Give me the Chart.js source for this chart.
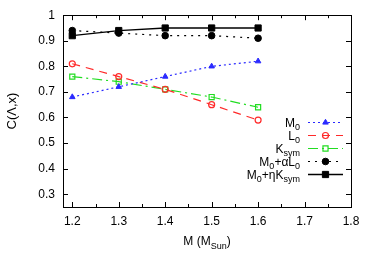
<!DOCTYPE html>
<html>
<head>
<meta charset="utf-8">
<script src="https://cdn.jsdelivr.net/npm/chart.js@4"></script>
<style>
  body { margin: 0; background: #fff; }
  canvas { display: block; }
</style>
</head>
<body>
<canvas id="myChart" width="374" height="262"></canvas>
<script>
// data
const masses = [1.2, 1.3, 1.4, 1.5, 1.6];
const m0 = [0.68, 0.72, 0.76, 0.80, 0.82];
const l0 = [0.81, 0.76, 0.71, 0.65, 0.59];
const ksym = [0.76, 0.74, 0.71, 0.68, 0.64];
const m0AlphaL0 = [0.94, 0.93, 0.92, 0.92, 0.91];
const m0EtaKsym = [0.92, 0.94, 0.95, 0.95, 0.95];

const xTicks = [1.2, 1.3, 1.4, 1.5, 1.6, 1.7, 1.8];
const xTickLabels = ["1.2", "1.3", "1.4", "1.5", "1.6", "1.7", "1.8"];
const xMinorTicks = [1.25, 1.35, 1.45, 1.55, 1.65, 1.75];
const yTicks = [0.3, 0.4, 0.5, 0.6, 0.7, 0.8, 0.9, 1.0];
const yTickLabels = ["0.3", "0.4", "0.5", "0.6", "0.7", "0.8", "0.9", "1"];

// legend labels as [text, isSubscript] pieces
const legendLabels = [
  [["M", false], ["0", true]],
  [["L", false], ["0", true]],
  [["K", false], ["sym", true]],
  [["M", false], ["0", true], ["+\u03B1L", false], ["0", true]],
  [["M", false], ["0", true], ["+\u03B7K", false], ["sym", true]]
];

const FONT = "'Liberation Sans', Arial, Helvetica, sans-serif";
Chart.defaults.font.family = FONT;

function pts(arr) {
  return masses.map((m, i) => ({ x: m, y: arr[i] }));
}

function drawRich(ctx, pieces, x, y, align) {
  const big = "12px " + FONT, small = "9px " + FONT;
  let w = 0;
  pieces.forEach(p => { ctx.font = p[1] ? small : big; w += ctx.measureText(p[0]).width; });
  let cx = align === "right" ? x - w : (align === "center" ? x - w / 2 : x);
  ctx.textAlign = "left";
  ctx.textBaseline = "alphabetic";
  pieces.forEach(p => {
    ctx.font = p[1] ? small : big;
    ctx.fillText(p[0], cx, y + (p[1] ? 3.5 : 0));
    cx += ctx.measureText(p[0]).width;
  });
}

const frame = {
  id: "frame",
  afterDraw(chart) {
    const ctx = chart.ctx;
    const a = chart.chartArea;
    const xs = chart.scales.x, ys = chart.scales.y;
    ctx.save();
    ctx.strokeStyle = "#000";
    ctx.lineWidth = 1;
    ctx.setLineDash([]);
    ctx.strokeRect(Math.round(a.left) + 0.5, Math.round(a.top) + 0.5,
      Math.round(a.right - a.left), Math.round(a.bottom - a.top));
    ctx.beginPath();
    xTicks.concat(xMinorTicks).forEach(v => {
      const len = xMinorTicks.includes(v) ? 3 : 5;
      const px = Math.round(xs.getPixelForValue(v)) + 0.5;
      ctx.moveTo(px, a.bottom); ctx.lineTo(px, a.bottom - len);
      ctx.moveTo(px, a.top); ctx.lineTo(px, a.top + len);
    });
    yTicks.forEach(v => {
      const py = Math.round(ys.getPixelForValue(v)) + 0.5;
      ctx.moveTo(a.left, py); ctx.lineTo(a.left + 5, py);
      ctx.moveTo(a.right, py); ctx.lineTo(a.right - 5, py);
    });
    ctx.stroke();

    // axis titles
    ctx.fillStyle = "#000";
    drawRich(ctx, [["M (M", false], ["Sun", true], [")", false]], 207, 245, "center");
    ctx.save();
    ctx.translate(16, 111);
    ctx.rotate(-Math.PI / 2);
    ctx.font = "13px " + FONT;
    ctx.textAlign = "center";
    ctx.textBaseline = "alphabetic";
    ctx.fillText("C(\u039B,x)", 0, 0);
    ctx.restore();

    // legend
    chart.data.datasets.forEach((ds, i) => {
      const y = 122.5 + i * 13;
      ctx.fillStyle = "#000";
      drawRich(ctx, legendLabels[i], 300, y + 4, "right");
      ctx.strokeStyle = ds.borderColor;
      ctx.lineWidth = ds.borderWidth;
      ctx.setLineDash(ds.borderDash || []);
      ctx.beginPath();
      ctx.moveTo(308, y); ctx.lineTo(343, y);
      ctx.stroke();
      ctx.setLineDash([]);
      ctx.fillStyle = ds.pointBackgroundColor;
      ctx.strokeStyle = ds.pointBorderColor;
      ctx.lineWidth = ds.pointBorderWidth;
      Chart.helpers.drawPoint(ctx, {
        pointStyle: ds.pointStyle, radius: ds.pointRadius, rotation: 0,
        borderWidth: ds.pointBorderWidth
      }, 325.5, y);
    });
    ctx.restore();
  }
};

const ctx = document.getElementById("myChart").getContext("2d");

const myChart = new Chart(ctx, {
  type: "line",
  data: {
    datasets: [
      {
        label: "M0",
        data: pts(m0),
        borderColor: "#2a2aff",
        borderWidth: 1.2,
        borderDash: [2, 3],
        pointStyle: "triangle",
        pointRadius: 3.2,
        pointBackgroundColor: "#2a2aff",
        pointBorderColor: "#2a2aff",
        pointBorderWidth: 1
      },
      {
        label: "L0",
        data: pts(l0),
        borderColor: "#ff2a2a",
        borderWidth: 1.2,
        borderDash: [8, 6],
        pointStyle: "circle",
        pointRadius: 3,
        pointBackgroundColor: "rgba(255,255,255,0)",
        pointBorderColor: "#ff2a2a",
        pointBorderWidth: 1.2
      },
      {
        label: "Ksym",
        data: pts(ksym),
        borderColor: "#22dd22",
        borderWidth: 1.2,
        borderDash: [10, 4, 2, 4],
        pointStyle: "rect",
        pointRadius: 3.6,
        pointBackgroundColor: "rgba(255,255,255,0)",
        pointBorderColor: "#22dd22",
        pointBorderWidth: 1.2
      },
      {
        label: "M0+aL0",
        data: pts(m0AlphaL0),
        borderColor: "#000",
        borderWidth: 1.2,
        borderDash: [2, 5],
        pointStyle: "circle",
        pointRadius: 3.3,
        pointBackgroundColor: "#000",
        pointBorderColor: "#000",
        pointBorderWidth: 1
      },
      {
        label: "M0+nKsym",
        data: pts(m0EtaKsym),
        borderColor: "#000",
        borderWidth: 1.3,
        pointStyle: "rect",
        pointRadius: 4.4,
        pointBackgroundColor: "#000",
        pointBorderColor: "#000",
        pointBorderWidth: 1
      }
    ]
  },
  options: {
    responsive: false,
    animation: false,
    layout: { padding: { left: 0, top: 13, right: 23, bottom: 0 } },
    plugins: { legend: { display: false }, tooltip: { enabled: false } },
    elements: { line: { tension: 0 } },
    scales: {
      x: {
        type: "linear",
        min: 1.18,
        max: 1.8,
        afterFit: s => { s.height = 55; },
        afterBuildTicks: s => { s.ticks = xTicks.map(v => ({ value: v })); },
        grid: { display: false, drawTicks: false },
        border: { display: false },
        ticks: {
          padding: 7,
          color: "#000",
          font: { size: 12 },
          maxRotation: 0,
          autoSkip: false,
          callback: (v, i) => xTickLabels[i]
        }
      },
      y: {
        type: "linear",
        min: 0.25,
        max: 1.0,
        afterFit: s => { s.width = 63; },
        afterBuildTicks: s => { s.ticks = yTicks.map(v => ({ value: v })); },
        grid: { display: false, drawTicks: false },
        border: { display: false },
        ticks: {
          padding: 8,
          color: "#000",
          font: { size: 12 },
          autoSkip: false,
          callback: (v, i) => yTickLabels[i]
        }
      }
    }
  },
  plugins: [frame]
});
</script>
</body>
</html>
